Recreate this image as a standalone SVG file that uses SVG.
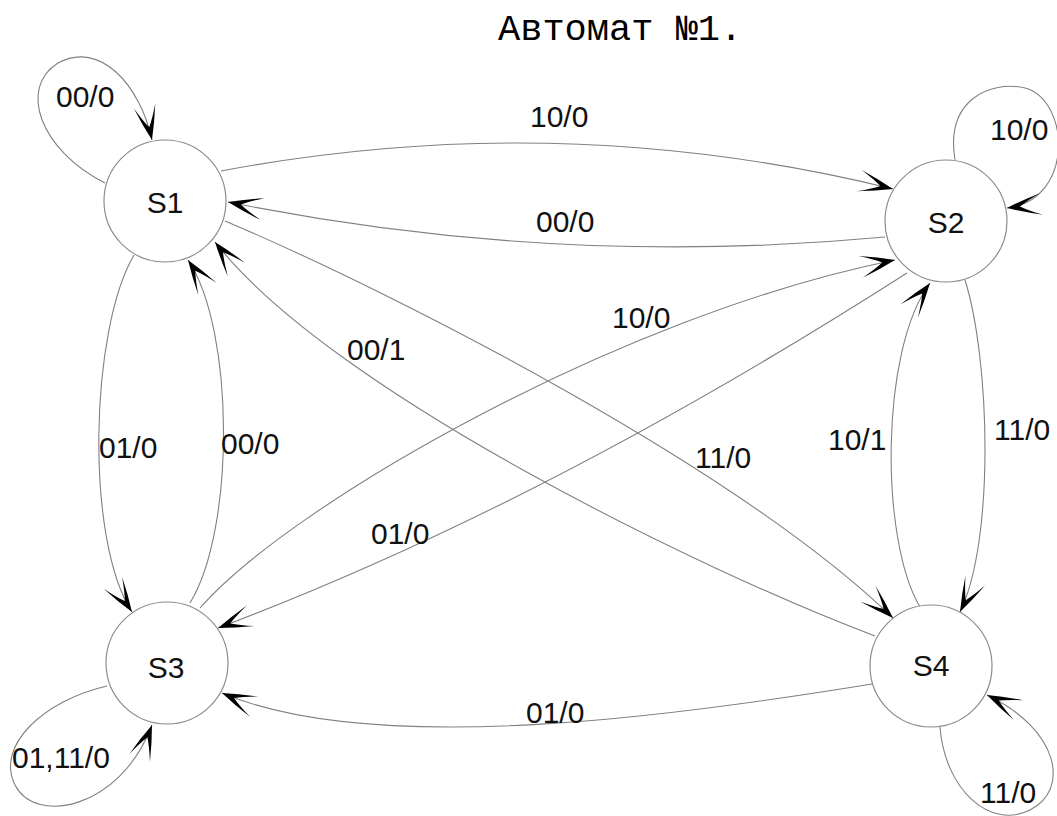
<svg xmlns="http://www.w3.org/2000/svg" width="1057" height="816" viewBox="0 0 1057 816">
<style>
.st{fill:#fff;stroke:#8c8c8c;stroke-width:1.2}
.e{fill:none;stroke:#808080;stroke-width:1.1;marker-end:url(#ah)}
.nl{font-family:"Liberation Sans",Arial,sans-serif;font-size:30px;fill:#111;text-anchor:middle}
.lb{font-family:"Liberation Sans",Arial,sans-serif;font-size:30px;fill:#111}
.tt{font-family:"Liberation Mono","Courier New",monospace;font-size:37px;fill:#000}
</style>
<defs>
<marker id="ah" markerUnits="userSpaceOnUse" viewBox="-37 -13 38 26" refX="0" refY="0" markerWidth="38" markerHeight="26" orient="auto">
<path d="M0,0 Q-16,-6 -35,-11 Q-21,-5 -13,0 Q-21,5 -35,11 Q-16,6 0,0 Z" fill="#000"/>
</marker>
</defs>
<rect width="1057" height="816" fill="#fff"/>
<text class="tt" x="498" y="40">Автомат №1.</text>
<g id="connectors">
<path class="e" d="M105,183 C40,150 18,88 58,63 C100,40 140,85 152,140"/>
<path class="e" d="M955,160 C945,100 990,80 1025,88 C1070,100 1075,200 1007,208"/>
<path class="e" d="M107,686 C45,700 -5,745 15,785 C35,825 120,810 152,725"/>
<path class="e" d="M940,727 C945,790 990,830 1030,810 C1070,790 1060,730 987,695"/>
<path class="e" d="M221,171 Q560,107 893,189"/>
<path class="e" d="M885,237 Q555,268 228,202"/>
<path class="e" d="M134,255 C90,330 85,540 132,612"/>
<path class="e" d="M190,603 C235,530 235,330 188,260"/>
<path class="e" d="M225,221 C400,295 740,470 893,618"/>
<path class="e" d="M875,636 C700,570 330,390 215,242"/>
<path class="e" d="M200,608 C290,505 620,315 895,260"/>
<path class="e" d="M907,273 Q543.5,505.5 218,628"/>
<path class="e" d="M965,280 C990,360 995,540 960,612"/>
<path class="e" d="M920,607 C880,540 880,350 930,283"/>
<path class="e" d="M872,684 C700,712 380,760 222,693"/>
</g>
<g id="S1"><circle class="st" cx="165" cy="201" r="61"/><text class="nl" x="165" y="213">S1</text></g>
<g id="S2"><circle class="st" cx="946" cy="221" r="61"/><text class="nl" x="946" y="233">S2</text></g>
<g id="S3"><circle class="st" cx="167" cy="663" r="61"/><text class="nl" x="166" y="678">S3</text></g>
<g id="S4"><circle class="st" cx="931" cy="666" r="61"/><text class="nl" x="931" y="676">S4</text></g>
<g id="labels">
<text class="lb" x="56" y="107">00/0</text>
<text class="lb" x="530" y="127">10/0</text>
<text class="lb" x="536" y="232">00/0</text>
<text class="lb" x="990" y="140">10/0</text>
<text class="lb" x="612" y="328">10/0</text>
<text class="lb" x="347" y="360">00/1</text>
<text class="lb" x="695" y="468">11/0</text>
<text class="lb" x="371" y="544">01/0</text>
<text class="lb" x="99" y="458">01/0</text>
<text class="lb" x="221" y="454">00/0</text>
<text class="lb" x="828" y="450">10/1</text>
<text class="lb" x="994" y="440">11/0</text>
<text class="lb" x="526" y="723">01/0</text>
<text class="lb" x="12" y="768">01,11/0</text>
<text class="lb" x="980" y="803">11/0</text>
</g>
</svg>
